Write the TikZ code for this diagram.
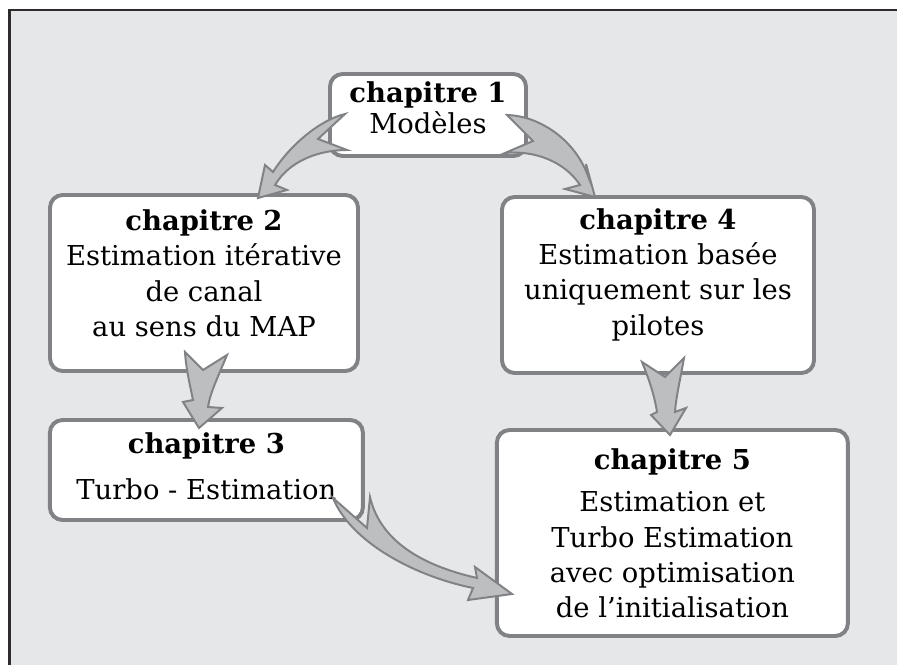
\documentclass[tikz,border=0pt]{standalone}
\usepackage{fontspec}
\setmainfont{DejaVu Serif}
\usepackage{tikz}
\usetikzlibrary{positioning}

\definecolor{bggray}{HTML}{E6E7E8}
\definecolor{boxgray}{HTML}{808285}
\definecolor{arrowfill}{HTML}{BCBEC0}
\definecolor{framedark}{HTML}{2E2B2C}

% extra depth under the last line, lifts the text inside its box
\newcommand{\lowpad}[1]{\rule[-#1]{0pt}{0pt}}

\begin{document}
\begin{tikzpicture}[
  every node/.style={font=\fontsize{19.5}{25}\selectfont},
  chapbox/.style={draw=boxgray, line width=2.8pt, fill=white, rounded corners=9pt,
                  align=center, inner sep=0pt},
  fatarrow/.style={draw=boxgray, line width=1.4pt, fill=arrowfill, line join=miter},
]
\useasboundingbox (0,0) rectangle (22.425,16.625);

%% ── Background and frame ───────────────────────────────────────────────────
\fill[bggray] (0.24,0) rectangle (22.425,16.375);
\draw[framedark, line width=2.1pt] (0.24,0) -- (0.24,16.375) -- (22.425,16.375);

%% ── Chapter boxes ──────────────────────────────────────────────────────────
\node[chapbox, minimum width=4.9cm, minimum height=2.05cm] (ch1) at (10.7, 13.75)
  {\textbf{chapitre 1}\\[-3pt] Modèles\lowpad{10pt}};
\node[chapbox, minimum width=7.7cm, minimum height=4.4cm] (ch2) at (5.1, 9.55)
  {\textbf{chapitre 2}\\ Estimation itérative\\ de canal\\ au sens du MAP\lowpad{14pt}};
\node[chapbox, minimum width=7.825cm, minimum height=2.5cm] (ch3) at (5.16, 4.875)
  {\textbf{chapitre 3}\\[7.5pt] Turbo - Estimation\lowpad{6pt}};
\node[chapbox, minimum width=7.8cm, minimum height=4.4cm] (ch4) at (16.45, 9.5)
  {\textbf{chapitre 4}\\ Estimation basée\\ uniquement sur les\\ pilotes\lowpad{18.5pt}};
\node[chapbox, minimum width=8.775cm, minimum height=5.15cm] (ch5) at (16.81, 3.3)
  {\textbf{chapitre 5}\\[5.5pt] Estimation et\\ Turbo Estimation\\ avec optimisation\\ de l'initialisation};

%% ── Curved arrows (notched tail, tapered body) ────────────────────────────
% ch1 -> ch2
\draw[fatarrow] (8.625,13.775) -- (7.95,13.15) -- (8.675,12.875)
  .. controls (8.0,12.875) and (7.25,12.625) .. (6.875,12.0)
  -- (7.175,11.875) -- (6.45,11.675) -- (6.625,12.5) -- (6.825,12.325)
  .. controls (7.25,13.0) and (8.0,13.625) .. cycle;
% ch1 -> ch4
\draw[fatarrow] (12.675,13.75) -- (13.325,13.1) -- (12.625,12.8)
  .. controls (13.375,12.875) and (14.125,12.575) .. (14.5,12.0)
  -- (14.125,11.9) -- (14.875,11.7) -- (14.65,12.525) -- (14.7,12.225)
  .. controls (14.375,13.125) and (13.5,13.725) .. cycle;
% ch2 -> ch3
\draw[fatarrow] (4.625,7.825) -- (5.075,7.375) -- (5.675,7.75)
  .. controls (5.45,7.2) and (5.25,6.8) .. (5.2,6.45)
  -- (5.55,6.425) -- (4.975,5.925) -- (4.575,6.575) -- (4.825,6.625)
  .. controls (4.75,7.0) and (4.65,7.4) .. cycle;
% ch4 -> ch5
\draw[fatarrow] (16.05,7.575) -- (16.625,7.2) -- (17.1,7.675)
  .. controls (17.0,7.1) and (16.9,6.7) .. (16.875,6.325)
  -- (17.15,6.425) -- (16.75,5.75) -- (16.275,6.25) -- (16.425,6.325)
  .. controls (16.35,6.8) and (16.2,7.2) .. cycle;
% ch3 -> ch5
\draw[fatarrow] (8.325,4.175) -- (9.175,3.425) -- (9.25,4.2)
  .. controls (9.5,3.125) and (10.5,2.5) .. (11.925,2.175)
  -- (11.875,2.45) -- (12.8,1.775) -- (11.7,1.625) -- (11.825,1.925)
  .. controls (10.25,2.25) and (8.75,3.125) .. cycle;

\end{tikzpicture}
\end{document}
